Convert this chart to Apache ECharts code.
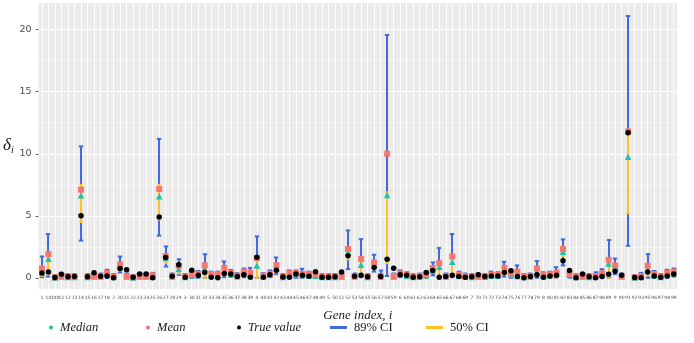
<!DOCTYPE html>
<html>
<head>
<meta charset="utf-8">
<script src="https://cdn.jsdelivr.net/npm/echarts@6.0.0/dist/echarts.min.js"></script>
<style>html,body{margin:0;padding:0;background:#fff}#c{width:694px;height:343px}</style>
</head>
<body>
<div id="c"></div>
<script>
// Gene indices (sorted as text, as in the figure)
const categories = ['1','10','100','11','12','13','14','15','16','17','18','2','20','21','22','23','24','25','26','27','28','29','3','30','31','32','33','34','35','36','37','38','39','4','40','41','42','43','44','45','46','47','48','49','5','50','51','52','53','54','55','56','57','58','59','6','60','61','62','63','64','65','66','67','68','69','7','70','71','72','73','74','75','76','77','78','79','8','80','81','82','83','84','85','86','87','88','89','9','90','91','92','93','95','96','97','98','99'];

const meanVals = [0.75,1.91,0.05,0.15,0.1,0.1,7.1,0.1,0.15,0.15,0.4,0.1,1.08,0.15,0.05,0.15,0.15,0.2,7.16,1.75,0.16,0.97,0.1,0.3,0.32,1.0,0.3,0.3,0.8,0.4,0.18,0.5,0.4,1.59,0.18,0.32,1.02,0.1,0.38,0.38,0.32,0.3,0.25,0.1,0.1,0.1,0.15,2.32,0.15,1.53,0.1,1.24,0.15,10.0,0.15,0.35,0.25,0.1,0.16,0.25,0.8,1.18,0.16,1.72,0.25,0.15,0.1,0.16,0.12,0.25,0.25,0.8,0.35,0.5,0.1,0.16,0.75,0.25,0.3,0.43,2.32,0.3,0.1,0.16,0.1,0.15,0.37,1.45,1.0,0.15,11.8,0.05,0.15,0.97,0.3,0.1,0.4,0.5];

const medianVals = [0.45,1.53,0.03,0.1,0.07,0.06,6.65,0.07,0.1,0.1,0.3,0.06,0.9,0.1,0.03,0.1,0.1,0.12,6.57,1.6,0.1,0.72,0.07,0.2,0.22,0.75,0.2,0.2,0.6,0.3,0.12,0.35,0.28,1.0,0.12,0.25,0.8,0.07,0.27,0.25,0.22,0.2,0.17,0.07,0.07,0.06,0.1,2.07,0.1,1.05,0.07,1.1,0.1,6.68,0.1,0.25,0.17,0.07,0.1,0.18,0.6,0.9,0.1,1.3,0.17,0.1,0.07,0.1,0.08,0.17,0.17,0.6,0.25,0.15,0.07,0.1,0.5,0.12,0.22,0.3,2.1,0.22,0.07,0.1,0.07,0.1,0.25,1.15,0.85,0.1,9.75,0.03,0.1,0.7,0.2,0.07,0.3,0.35];

const trueVals = [0.38,0.48,0.02,0.28,0.08,0.1,5.0,0.08,0.4,0.12,0.15,0.0,0.75,0.65,0.05,0.3,0.3,0.0,4.9,1.64,0.12,1.05,0.05,0.62,0.2,0.43,0.05,0.0,0.35,0.3,0.1,0.25,0.05,1.65,0.05,0.25,0.62,0.06,0.05,0.3,0.2,0.12,0.5,0.05,0.05,0.08,0.48,1.78,0.12,0.2,0.08,0.83,0.1,1.5,0.78,0.25,0.2,0.05,0.08,0.43,0.6,0.05,0.1,0.2,0.1,0.05,0.08,0.25,0.1,0.15,0.15,0.43,0.57,0.1,0.0,0.1,0.25,0.05,0.15,0.2,1.37,0.6,0.0,0.3,0.08,0.0,0.1,0.28,0.54,0.2,11.7,0.02,0.0,0.48,0.15,0.05,0.15,0.3];

const ci89Low = [0.05,0.1,0,0,0,0,3.0,0,0,0,0,0,0.43,0,0,0,0,0,3.4,0.91,0,0.24,0,0,0,0,0,0,0.05,0.08,0,0.05,0,0,0,0.05,0.3,0,0,0,0,0,0,0,0,0,0,0.7,0,0.05,0,0.5,0,0.15,0,0.05,0,0,0,0,0.2,0,0,0.05,0,0,0,0,0,0,0,0.1,0,0,0,0,0,0,0,0,1.0,0,0,0,0,0,0,0,0.3,0,2.58,0,0,0,0,0,0,0.1];
const ci89High = [1.72,3.53,0.2,0.4,0.3,0.3,10.6,0.3,0.35,0.35,0.65,0.3,1.72,0.35,0.2,0.35,0.35,0.4,11.2,2.53,0.35,1.5,0.3,0.5,0.55,1.9,0.5,0.5,1.32,0.64,0.38,0.75,0.8,3.34,0.38,0.6,1.64,0.3,0.6,0.6,0.73,0.5,0.45,0.3,0.3,0.3,0.35,3.82,0.35,3.12,0.3,1.86,0.59,19.57,0.35,0.6,0.45,0.3,0.35,0.45,1.24,2.4,0.35,3.53,0.5,0.35,0.3,0.35,0.3,0.5,0.45,1.29,0.55,1.0,0.3,0.35,1.35,0.45,0.5,0.86,3.1,0.5,0.3,0.35,0.3,0.45,0.7,3.05,1.55,0.35,21.1,0.2,0.4,1.91,0.55,0.3,0.65,0.75];
const ci50Low = [0.15,0.25,0,0.02,0,0,4.5,0,0.03,0,0.1,0,0.6,0.03,0,0.02,0.02,0.03,4.7,1.2,0,0.35,0,0.05,0.05,0,0.05,0.03,0.2,0.15,0,0.15,0.05,0,0,0.12,0.45,0,0.05,0.08,0.05,0.05,0.05,0,0,0,0.02,1.5,0,0.1,0,0.8,0,1.2,0.02,0.12,0.05,0,0,0.05,0.4,0,0,0.1,0.03,0,0,0,0,0.03,0.03,0.3,0.08,0,0,0,0.15,0,0.05,0,1.75,0.05,0,0,0,0,0.05,0,0.55,0,5.2,0,0,0.2,0.05,0,0.08,0.2];
const ci50High = [0.9,2.0,0.08,0.2,0.15,0.15,7.5,0.15,0.2,0.2,0.5,0.15,1.2,0.2,0.08,0.2,0.2,0.25,7.5,1.85,0.2,0.95,0.15,0.35,0.38,1.0,0.35,0.33,0.8,0.45,0.22,0.5,0.45,1.45,0.22,0.38,1.1,0.15,0.42,0.42,0.38,0.35,0.3,0.15,0.15,0.15,0.2,2.3,0.2,1.3,0.15,1.35,0.25,6.9,0.2,0.4,0.3,0.15,0.2,0.3,0.85,1.1,0.2,1.6,0.3,0.2,0.15,0.2,0.17,0.3,0.3,0.85,0.4,0.5,0.15,0.2,0.75,0.28,0.35,0.45,2.5,0.35,0.15,0.2,0.15,0.2,0.4,1.5,1.1,0.2,11.6,0.08,0.2,0.9,0.35,0.15,0.45,0.55];

const yTicks = [0, 5, 10, 15, 20];
const yMinor = [2.5, 7.5, 12.5, 17.5];

const COL = {median:'#1FC3AA', mean:'#F8766D', truth:'#000000', ci89:'#4169E1', ci50:'#FFC125'};

function errBar(color, lw, cap) {
  return function (params, api) {
    const x = api.value(0);
    const p1 = api.coord([x, api.value(1)]);
    const p2 = api.coord([x, api.value(2)]);
    const cx = Math.round(p1[0]);
    const st = {stroke: color, lineWidth: lw, opacity: 1};
    return {type: 'group', children: [
      {type: 'line', shape: {x1: cx, y1: p1[1], x2: cx, y2: p2[1]}, style: st},
      {type: 'line', shape: {x1: cx - cap, y1: p1[1], x2: cx + cap, y2: p1[1]}, style: st},
      {type: 'line', shape: {x1: cx - cap, y1: p2[1], x2: cx + cap, y2: p2[1]}, style: st}
    ]};
  };
}

const serif = "'Liberation Serif', 'DejaVu Serif', serif";
const legendBase = {top: 321, padding: 0, itemGap: 0, selectedMode: false,
  textStyle: {fontFamily: serif, fontSize: 12.5, fontStyle: 'italic', color: '#1a1a1a', padding: [0, 0, 0, 2]}};

const chart = echarts.init(document.getElementById('c'), null, {renderer: 'canvas'});
chart.setOption({
  animation: false,
  backgroundColor: '#ffffff',
  grid: {left: 35, right: 17, top: 3, bottom: 54, show: true, backgroundColor: '#EBEBEB', borderWidth: 0},
  legend: [
    Object.assign({}, legendBase, {left: 49, data: [{name: 'Median', icon: 'circle'}], itemWidth: 4, itemHeight: 4}),
    Object.assign({}, legendBase, {left: 146, data: [{name: 'Mean', icon: 'circle'}], itemWidth: 4, itemHeight: 4}),
    Object.assign({}, legendBase, {left: 237, data: [{name: 'True value', icon: 'circle'}], itemWidth: 4, itemHeight: 4}),
    Object.assign({}, legendBase, {left: 330, data: [{name: '89% CI', icon: 'rect'}], itemWidth: 17, itemHeight: 3,
      textStyle: Object.assign({}, legendBase.textStyle, {fontStyle: 'normal'})}),
    Object.assign({}, legendBase, {left: 426, data: [{name: '50% CI', icon: 'rect'}], itemWidth: 17, itemHeight: 3,
      textStyle: Object.assign({}, legendBase.textStyle, {fontStyle: 'normal'})})
  ],
  xAxis: {
    type: 'category', data: categories, boundaryGap: true,
    name: 'Gene index, i', nameLocation: 'middle', nameGap: 20,
    nameTextStyle: {fontFamily: serif, fontStyle: 'italic', fontSize: 13, color: '#1a1a1a'},
    axisLine: {show: false},
    axisTick: {show: true, alignWithLabel: true, interval: 0, length: 3, lineStyle: {color: '#333333', width: 0.8}},
    axisLabel: {interval: 0, fontSize: 4.5, color: '#4D4D4D', margin: 6, fontFamily: 'DejaVu Sans'},
    splitLine: {show: false}
  },
  yAxis: {
    type: 'value', min: -0.9, max: 22.15,
    name: '{a|δ}{b|i}', nameLocation: 'middle', nameRotate: 0, nameGap: 20,
    nameTextStyle: {rich: {
      a: {fontFamily: serif, fontStyle: 'italic', fontSize: 17, color: '#1a1a1a'},
      b: {fontFamily: serif, fontStyle: 'italic', fontSize: 10, color: '#1a1a1a', padding: [9, 0, 0, 0]}
    }},
    axisLine: {show: false},
    axisTick: {show: true, customValues: yTicks, length: 3, lineStyle: {color: '#333333', width: 0.8}},
    axisLabel: {customValues: yTicks, fontSize: 9.5, color: '#4D4D4D', margin: 7, fontFamily: 'DejaVu Sans'},
    splitLine: {show: false}
  },
  series: [
    {
      name: 'grid', type: 'scatter', data: [], z: 1, silent: true,
      markLine: {
        z: 1, zlevel: 0,
        silent: true, symbol: 'none', label: {show: false}, animation: false,
        emphasis: {disabled: true},
        data: [].concat(
          yMinor.map(v => ({yAxis: v, lineStyle: {color: '#ffffff', width: 0.5, type: 'solid'}})),
          yTicks.map(v => ({yAxis: v, lineStyle: {color: '#ffffff', width: 1.1, type: 'solid'}})),
          categories.map(c => ({xAxis: c, lineStyle: {color: '#ffffff', width: 1, type: 'solid'}}))
        )
      }
    },
    {
      name: '89% CI', type: 'custom', z: 3, itemStyle: {color: COL.ci89},
      renderItem: errBar(COL.ci89, 2, 2.2),
      encode: {x: 0, y: [1, 2]},
      data: categories.map((c, i) => [i, ci89Low[i], ci89High[i]])
    },
    {
      name: '50% CI', type: 'custom', z: 4, itemStyle: {color: COL.ci50},
      renderItem: errBar(COL.ci50, 2, 1.6),
      encode: {x: 0, y: [1, 2]},
      data: categories.map((c, i) => [i, ci50Low[i], ci50High[i]])
    },
    {
      name: 'Median', type: 'scatter', z: 5, symbol: 'triangle', symbolSize: 6.5,
      itemStyle: {color: COL.median, opacity: 1}, data: categories.map((c, i) => [i, medianVals[i]])
    },
    {
      name: 'Mean', type: 'scatter', z: 6, symbol: 'rect', symbolSize: 6,
      itemStyle: {color: COL.mean, opacity: 1}, data: categories.map((c, i) => [i, meanVals[i]])
    },
    {
      name: 'True value', type: 'scatter', z: 7, symbol: 'circle', symbolSize: 5.5,
      itemStyle: {color: COL.truth, opacity: 1}, data: categories.map((c, i) => [i, trueVals[i]])
    }
  ]
});
</script>
</body>
</html>
